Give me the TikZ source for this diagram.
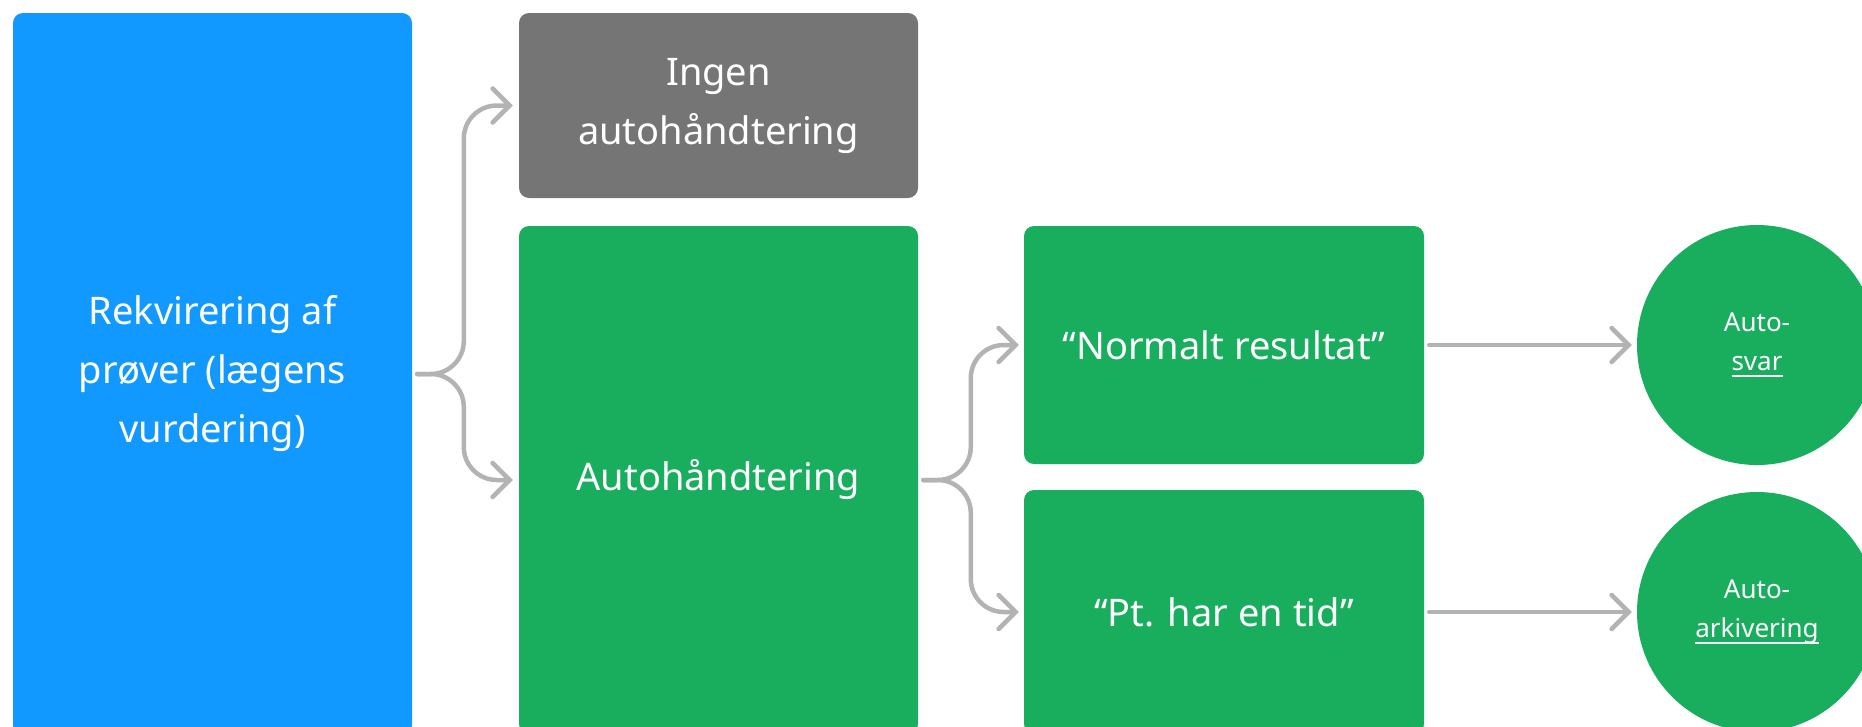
\documentclass[tikz,border=0pt]{standalone}
\usepackage{fontspec}
\setmainfont{Noto Sans}
\usetikzlibrary{arrows.meta}
\definecolor{cblue}{HTML}{1199FF}
\definecolor{cgreen}{HTML}{18AE5E}
\definecolor{cgray}{HTML}{757575}
\definecolor{cline}{HTML}{B3B3B3}
\newcommand\myul[1]{\setbox0\hbox{#1}\leavevmode\rlap{\rule[-7pt]{\wd0}{2pt}}\box0}
\begin{document}
\begin{tikzpicture}[x=1pt,y=-1pt,
 boxstyle/.style={rectangle, rounded corners=10pt, inner sep=0pt, text=white, align=center, font=\fontsize{38}{59}\selectfont},
 circstyle/.style={circle, fill=cgreen, minimum size=240pt, inner sep=0pt, text=white, align=center, font=\fontsize{26}{39}\selectfont},
 conn/.style={draw=cline, line width=4.5pt, line cap=round, -{Straight Barb[length=17pt,width=34pt,line cap=round]}},
 brace/.style={conn, rounded corners=33pt}]
\path[use as bounding box, clip] (0,0) rectangle (1862,726);

\node[boxstyle, fill=cblue, minimum width=399pt, minimum height=722pt] (req) at (212.5,374) {Rekvirering af\\prøver (lægens\\vurdering)};
\node[boxstyle, fill=cgray, minimum width=399pt, minimum height=185pt] (none) at (718.5,105.5) {Ingen\\autohåndtering};
\node[boxstyle, fill=cgreen, minimum width=399pt, minimum height=508pt] (auto) at (718.5,480) {Autohåndtering};
\node[boxstyle, fill=cgreen, minimum width=400pt, minimum height=238pt] (norm) at (1224,345) {“Normalt resultat”};
\node[boxstyle, fill=cgreen, minimum width=400pt, minimum height=244pt] (pt) at (1224,612) {“Pt. har en tid”};
\node[circstyle] (svar) at (1757,345) {Auto-\\\myul{svar}};
\node[circstyle] (ark) at (1757,612) {Auto-\\\myul{arkivering}};

\draw[brace] ([xshift=5pt]req.east) -| ([xshift=-55pt]none.west) -- ([xshift=-6pt]none.west);
\draw[brace] ([xshift=5pt]req.east) -| ([xshift=-55pt]auto.west) -- ([xshift=-6pt]auto.west);
\draw[brace] ([xshift=5pt]auto.east) -| ([xshift=-53pt]norm.west) -- ([xshift=-5pt]norm.west);
\draw[brace] ([xshift=5pt]auto.east) -| ([xshift=-53pt]pt.west) -- ([xshift=-5pt]pt.west);
\draw[conn] ([xshift=5pt]norm.east) -- ([xshift=-5pt]svar.west);
\draw[conn] ([xshift=5pt]pt.east) -- ([xshift=-5pt]ark.west);
\end{tikzpicture}
\end{document}
